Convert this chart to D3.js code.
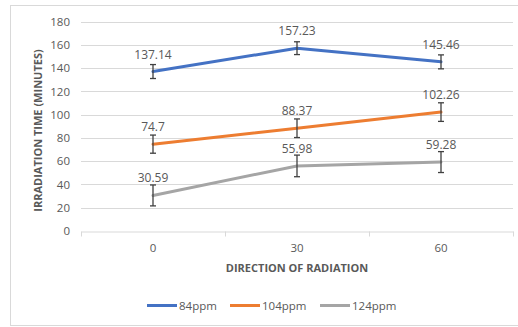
<!DOCTYPE html>
<html><head><meta charset="utf-8">
<script src="https://cdn.jsdelivr.net/npm/d3@7"></script>
<style>body{margin:0;background:#fff}svg{display:block}</style>
</head><body>
<svg id="c" width="518" height="327"></svg>
<script>
const categories = ["0", "30", "60"];
const seriesNames = ["84ppm", "104ppm", "124ppm"];
const values84 = [137.14, 157.23, 145.46];
const values104 = [74.7, 88.37, 102.26];
const values124 = [30.59, 55.98, 59.28];
const errors84 = [6, 5.5, 6];
const errors104 = [7.8, 8, 8];
const errors124 = [9, 9.3, 9];
const yTicks = [0, 20, 40, 60, 80, 100, 120, 140, 160, 180];
const colors = ["#4472C4", "#ED7D31", "#A5A5A5"];

const series = [
  {name: seriesNames[0], values: values84, errors: errors84, color: colors[0]},
  {name: seriesNames[1], values: values104, errors: errors104, color: colors[1]},
  {name: seriesNames[2], values: values124, errors: errors124, color: colors[2]}
];

const font = "'Open Sans', sans-serif";
const txt = "#595959";
const svg = d3.select("#c");

svg.append("rect").attr("x", 10.5).attr("y", 5.5).attr("width", 520).attr("height", 320)
  .attr("fill", "#fff").attr("stroke", "#D9D9D9");

const x = d3.scaleBand().domain(categories).range([81, 513]).padding(0);
const y = d3.scaleLinear().domain([0, 180]).range([231, 21.7]);

// gridlines
svg.append("g").selectAll("line").data(yTicks.filter(t => t > 0)).join("line")
  .attr("x1", 81).attr("x2", 513)
  .attr("y1", d => Math.round(y(d)) + 0.5).attr("y2", d => Math.round(y(d)) + 0.5)
  .attr("stroke", "#D9D9D9").attr("stroke-width", 1);

// y axis labels
const yAxis = d3.axisLeft(y).tickValues(yTicks).tickSize(0).tickPadding(0);
const gy = svg.append("g").attr("transform", "translate(70,0)").call(yAxis);
gy.select(".domain").remove();
gy.selectAll("text").attr("fill", txt).style("font-family", font).style("font-size", "11.5px");

// x axis
const xAxis = d3.axisBottom(x).tickSize(0).tickPadding(12);
const gx = svg.append("g").attr("transform", `translate(0,${Math.round(y(0)) + 0.5})`).call(xAxis);
gx.select(".domain").attr("stroke", "#D9D9D9");
gx.selectAll("text").attr("fill", txt).style("font-family", font).style("font-size", "11.5px");
// band boundary ticks
const bounds = [x.range()[0]].concat(categories.map(c => x(c) + x.bandwidth()));
gx.append("g").selectAll("line").data(bounds).join("line")
  .attr("x1", d => Math.round(d) + 0.5).attr("x2", d => Math.round(d) + 0.5)
  .attr("y1", 0).attr("y2", 5).attr("stroke", "#D9D9D9");

// axis titles
svg.append("text").attr("x", 297).attr("y", 272).attr("text-anchor", "middle")
  .attr("fill", txt).style("font-family", font).style("font-size", "11px").style("font-weight", "bold")
  .text("DIRECTION OF RADIATION");
svg.append("text").attr("transform", "translate(42,130.5) rotate(-90)").attr("text-anchor", "middle")
  .attr("fill", txt).style("font-family", font).style("font-size", "11px").style("font-weight", "bold")
  .text("IRRADIATION TIME (MINUTES)");

const cx = c => x(c) + x.bandwidth() / 2;
const line = d3.line().x((d, i) => cx(categories[i])).y(d => y(d));

series.forEach(s => {
  svg.append("path").datum(s.values).attr("d", line).attr("fill", "none")
    .attr("stroke", s.color).attr("stroke-width", 3).attr("stroke-linejoin", "round").attr("stroke-linecap", "round");
});

// error bars
series.forEach(s => {
  const g = svg.append("g").attr("stroke", "#404040").attr("stroke-width", 1.3);
  s.values.forEach((v, i) => {
    const px = cx(categories[i]);
    const t = y(v + s.errors[i]), b = y(v - s.errors[i]);
    g.append("line").attr("x1", px).attr("x2", px).attr("y1", t).attr("y2", b);
    g.append("line").attr("x1", px - 3).attr("x2", px + 3).attr("y1", t).attr("y2", t);
    g.append("line").attr("x1", px - 3).attr("x2", px + 3).attr("y1", b).attr("y2", b);
  });
});

// data labels
series.forEach(s => {
  svg.append("g").selectAll("text").data(s.values).join("text")
    .attr("x", (d, i) => cx(categories[i])).attr("y", d => y(d) - 13)
    .attr("text-anchor", "middle").attr("fill", txt)
    .style("font-family", font).style("font-size", "12px")
    .text(d => String(d));
});

// legend
const legendX = [147, 230, 320];
const lg = svg.append("g");
series.forEach((s, i) => {
  lg.append("line").attr("x1", legendX[i]).attr("x2", legendX[i] + 30)
    .attr("y1", 305.5).attr("y2", 305.5).attr("stroke", s.color).attr("stroke-width", 3);
  lg.append("text").attr("x", legendX[i] + 32).attr("y", 309.5).attr("fill", txt)
    .style("font-family", font).style("font-size", "11.5px").text(s.name);
});
</script>
</body></html>
